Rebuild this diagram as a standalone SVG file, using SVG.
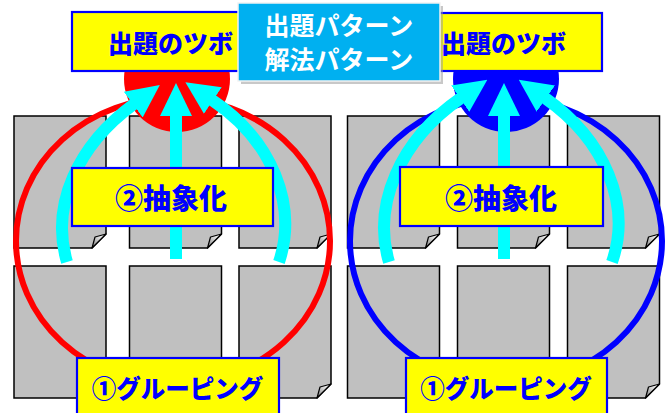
<svg xmlns="http://www.w3.org/2000/svg" width="669" height="413" viewBox="0 0 669 413">
<defs>
<style>
.page{fill:#c0c0c0;stroke:#000;stroke-width:1.5;stroke-linejoin:miter}
.flap{fill:url(#flapg);stroke:#000;stroke-width:1.2;stroke-linejoin:round}
.ybox{fill:#ffff00;stroke:#0000ff;stroke-width:2.2}
.ytxt{font-family:'Noto Sans CJK JP','Noto Sans',sans-serif;font-weight:900;fill:#0000ff;text-anchor:middle}
.ctxt{font-family:'Noto Sans CJK JP','Noto Sans',sans-serif;font-weight:bold;fill:#ffffff;text-anchor:middle;font-size:25px}
.arr{fill:none;stroke:#00ffff;stroke-width:12;marker-end:url(#ah)}
</style>
<linearGradient id="flapg" x1="0" y1="1" x2="1" y2="0">
<stop offset="0" stop-color="#7a7a7a"/>
<stop offset="0.6" stop-color="#d9d9d9"/>
<stop offset="1" stop-color="#ffffff"/>
</linearGradient>
<marker id="ah" markerUnits="userSpaceOnUse" markerWidth="33" markerHeight="32" viewBox="0 0 33 32" refX="1" refY="16" orient="auto">
<path d="M0,0 L33,16 L0,32 Z" fill="#00ffff"/>
</marker>
<g id="page">
<path class="page" d="M0,0 H92 V118 L78,132 H0 Z"/>
<path class="flap" d="M78,132 L81,121 L92,118 Z"/>
</g>
</defs>

<g id="pages-left">
<use href="#page" x="14" y="116"/>
<use href="#page" x="129.5" y="116"/>
<use href="#page" x="239" y="116"/>
<use href="#page" x="14" y="266"/>
<use href="#page" x="129.5" y="266"/>
<use href="#page" x="239" y="266"/>
</g>
<g id="pages-right">
<use href="#page" x="347.5" y="116"/>
<use href="#page" x="457.5" y="116"/>
<use href="#page" x="567.5" y="116"/>
<use href="#page" x="347.5" y="266"/>
<use href="#page" x="457.5" y="266"/>
<use href="#page" x="567.5" y="266"/>
</g>

<g id="ring-left"><ellipse cx="173" cy="241" rx="157" ry="143" fill="none" stroke="#ff0000" stroke-width="6"/></g>
<g id="ring-right"><ellipse cx="506" cy="241" rx="156" ry="143" fill="none" stroke="#0000ff" stroke-width="6"/></g>
<g id="tsubo-circle-left"><circle cx="177" cy="79" r="53" fill="#ff0000"/></g>
<g id="tsubo-circle-right"><circle cx="506" cy="79" r="53" fill="#0000ff"/></g>

<g id="connectors">
<path class="arr" d="M67,262 C50,205 78,145 134,104"/>
<path class="arr" d="M176,259 V115"/>
<path class="arr" d="M279,262 C298,205 272,140 212,100"/>
<path class="arr" d="M389,262 C372,205 400,140 461,98"/>
<path class="arr" d="M504,259 V115"/>
<path class="arr" d="M612,262 C632,205 605,140 545,98"/>
</g>

<g id="label-abstract-left">
<rect class="ybox" x="72" y="168" width="201" height="58"/>
<text class="ytxt" x="171" y="209" font-size="28">②抽象化</text>
</g>
<g id="label-abstract-right">
<rect class="ybox" x="400" y="167" width="203" height="59"/>
<text class="ytxt" x="501" y="209" font-size="28">②抽象化</text>
</g>
<g id="label-grouping-left">
<rect class="ybox" x="77" y="358" width="202" height="70"/>
<text class="ytxt" x="177.5" y="397.5" font-size="24.5">①グルーピング</text>
</g>
<g id="label-grouping-right">
<rect class="ybox" x="406" y="358" width="201" height="70"/>
<text class="ytxt" x="506" y="397.5" font-size="24.5">①グルーピング</text>
</g>
<g id="label-tsubo-left">
<rect class="ybox" x="72" y="12" width="197" height="59"/>
<text class="ytxt" x="170.5" y="53" font-size="25">出題のツボ</text>
</g>
<g id="label-tsubo-right">
<rect class="ybox" x="405" y="13" width="197" height="58"/>
<text class="ytxt" x="503.5" y="53" font-size="25">出題のツボ</text>
</g>
<g id="label-patterns">
<rect x="241" y="6" width="202" height="78" fill="#9a9a9a" opacity="0.55"/>
<rect x="238" y="3" width="202" height="78" fill="#00b0f0" stroke="#f2f2f2" stroke-width="1.5"/>
<text class="ctxt" x="339" y="34.5">出題パターン</text>
<text class="ctxt" x="339" y="68.5">解法パターン</text>
</g>
</svg>
